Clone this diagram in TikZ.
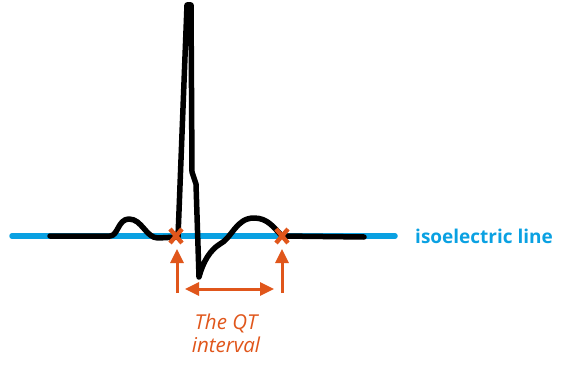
\documentclass[tikz,border=0pt]{standalone}
\usepackage{fontspec}
\setmainfont{Open Sans}
\usetikzlibrary{arrows.meta,positioning,calc}
\definecolor{isoblue}{HTML}{0AA1E2}
\definecolor{qtorange}{HTML}{E0561B}

\begin{document}
\begin{tikzpicture}[x=1pt,y=-1pt,
  isoline/.style={draw=isoblue, line width=5.5pt, line cap=round},
  trace/.style={draw=black, line width=5.5pt, line cap=round, line join=round},
  xmark/.style={draw=qtorange, line width=4.4pt},
  pointer/.style={draw=qtorange, line width=3pt, -{Triangle[length=14pt,width=13pt]}},
  span/.style={draw=qtorange, line width=3pt, {Triangle[length=14pt,width=13pt]}-{Triangle[length=14pt,width=13pt]}},
  isotext/.style={text=isoblue, font=\fontsize{19}{22}\selectfont\bfseries, inner sep=0pt},
  qttext/.style={text=qtorange, font=\fontsize{20.5}{23}\selectfont\itshape, align=center, inner sep=0pt},
]
\useasboundingbox (0,0) rectangle (564,366);

\coordinate (isoL) at (12,236);
\coordinate (isoR) at (395,236);
\draw[isoline] (isoL) -- (isoR);
\node[isotext, anchor=west] (iso) at (415,236) {isoelectric line};

\draw[trace] (50,236) -- (110,236)
  .. controls (118,236) and (118,219) .. (129,219)
  .. controls (142,219) and (146,238) .. (158,238) -- (178,237)
  -- (187,5) -- (191,5) -- (192,172) -- (196,184) -- (199,277)
  .. controls (203,262) and (210,250) .. (220,244)
  .. controls (232,238) and (236,218) .. (254,218)
  .. controls (268,218) and (274,228) .. (282,236) -- (364,237);

\coordinate (qon) at (176,236);
\coordinate (toff) at (282,236);
\foreach \c in {qon,toff}
  \draw[xmark] ($(\c)+(-6,-7)$) -- ($(\c)+(6,7)$) ($(\c)+(-6,7)$) -- ($(\c)+(6,-7)$);

\coordinate (qfoot) at (177,293);
\coordinate (qtip) at (177,249);
\coordinate (tfoot) at (282,293);
\coordinate (ttip) at (282,249);
\draw[pointer] (qfoot) -- (qtip);
\draw[pointer] (tfoot) -- (ttip);

\coordinate (spanL) at (185,289);
\coordinate (spanR) at (274,289);
\draw[span] (spanL) -- (spanR);

\node[qttext, anchor=north] (qt) at (226,314) {The QT\\interval};
\end{tikzpicture}
\end{document}
